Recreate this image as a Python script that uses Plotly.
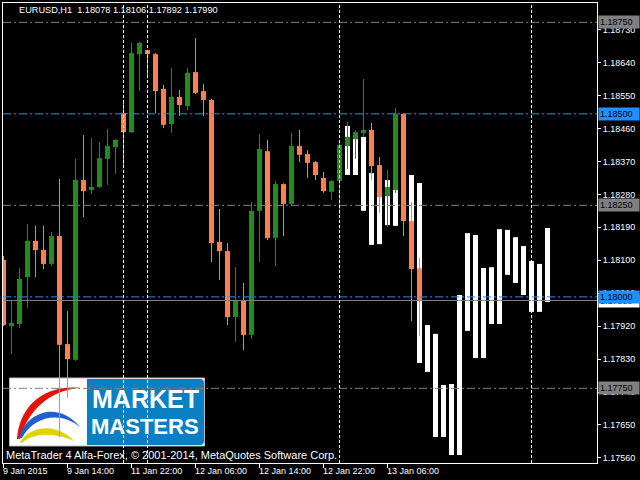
import plotly.graph_objects as go

# ---------------- data ----------------
bar_index = list(range(53))
opens = [1.18101, 1.17920, 1.17926, 1.18054, 1.18153, 1.18128, 1.18090, 1.18166, 1.17871, 1.17828,
         1.18319, 1.18292, 1.18300, 1.18377, 1.18409, 1.18502, 1.18450, 1.18663, 1.18674, 1.18663,
         1.18568, 1.18472, 1.18546, 1.18521, 1.18614, 1.18562, 1.18538, 1.18150, 1.18125, 1.17945,
         1.17991, 1.17896, 1.18235, 1.18398, 1.18161, 1.18308, 1.18254, 1.18412, 1.18390, 1.18368,
         1.18325, 1.18287, 1.18317, 1.18412, 1.18431, 1.18448, 1.18456, 1.18360, 1.18275, 1.18292,
         1.18500, 1.18207, 1.18078]
highs = [1.18112, 1.17991, 1.18079, 1.18199, 1.18194, 1.18194, 1.18177, 1.18322, 1.17961, 1.18377,
         1.18442, 1.18434, 1.18423, 1.18459, 1.18431, 1.18538, 1.18694, 1.18696, 1.18675, 1.18666,
         1.18579, 1.18625, 1.18565, 1.18625, 1.18707, 1.18582, 1.18541, 1.18240, 1.18147, 1.18081,
         1.18038, 1.18259, 1.18445, 1.18429, 1.18317, 1.18310, 1.18448, 1.18456, 1.18401, 1.18371,
         1.18341, 1.18318, 1.18429, 1.18478, 1.18456, 1.18595, 1.18475, 1.18382, 1.18347, 1.18516,
         1.18502, 1.18259, 1.18106]
lows = [1.17920, 1.17844, 1.17915, 1.17970, 1.18054, 1.18076, 1.18084, 1.17617, 1.17724, 1.17825,
        1.18218, 1.18281, 1.18298, 1.18306, 1.18336, 1.18355, 1.18448, 1.18562, 1.18601, 1.18502,
        1.18461, 1.18448, 1.18494, 1.18510, 1.18554, 1.18494, 1.18095, 1.18046, 1.17923, 1.17877,
        1.17855, 1.17885, 1.18095, 1.18155, 1.18084, 1.18166, 1.18248, 1.18368, 1.18325, 1.18319,
        1.18284, 1.18265, 1.18226, 1.18349, 1.18377, 1.18437, 1.18319, 1.18229, 1.18191, 1.18284,
        1.18166, 1.17934, 1.17892]
closes = [1.17923, 1.17929, 1.18049, 1.18153, 1.18128, 1.18090, 1.18166, 1.17869, 1.17830, 1.18319,
          1.18289, 1.18300, 1.18379, 1.18412, 1.18429, 1.18450, 1.18666, 1.18694, 1.18663, 1.18562,
          1.18470, 1.18546, 1.18524, 1.18612, 1.18557, 1.18538, 1.18147, 1.18125, 1.17945, 1.17989,
          1.17896, 1.18235, 1.18404, 1.18161, 1.18308, 1.18254, 1.18412, 1.18388, 1.18366, 1.18333,
          1.18289, 1.18317, 1.18415, 1.18437, 1.18450, 1.18456, 1.18357, 1.18273, 1.18300, 1.18500,
          1.18207, 1.18076, 1.17990]

proj_index = [43, 44, 45, 46, 47, 48, 49, 51, 52, 53, 54, 55, 56, 57, 58, 59, 60, 61, 62, 63,
              64, 65, 66, 67, 68]
proj_high = [1.18467, 1.18431, 1.18437, 1.18338, 1.18273, 1.18319, 1.18292, 1.18333, 1.18311, 1.17923,
             1.17899, 1.17759, 1.17762, 1.18005, 1.18174, 1.18169, 1.18079, 1.18081, 1.18185, 1.18183,
             1.18163, 1.18139, 1.18098, 1.18090, 1.18188]
proj_low = [1.18333, 1.18333, 1.18235, 1.18142, 1.18144, 1.18196, 1.18194, 1.18150, 1.17819, 1.17795,
            1.17617, 1.17617, 1.17568, 1.17568, 1.17907, 1.17833, 1.17833, 1.17926, 1.17926, 1.18060,
            1.18038, 1.18005, 1.17959, 1.17959, 1.17986]

level_grey = [1.18750, 1.18250, 1.17750]
level_blue = [1.18500, 1.18000]
bid_price = 1.17990
vline_bars = [15, 18, 42, 66]
ytick_vals = [1.18730, 1.18640, 1.18550, 1.18460, 1.18370, 1.18280, 1.18190, 1.18100,
              1.18010, 1.17920, 1.17830, 1.17740, 1.17650, 1.17560]
xtick_bars = [0, 8, 16, 24, 32, 40, 48]
xtick_labels = ["9 Jan 2015", "9 Jan 14:00", "11 Jan 22:00", "12 Jan 06:00",
                "12 Jan 14:00", "12 Jan 22:00", "13 Jan 06:00"]
header_text = "EURUSD,H1  1.18078 1.18106 1.17892 1.17990"
footer_text = "MetaTrader 4 Alfa-Forex, © 2001-2014, MetaQuotes Software Corp."

# ---------------- style ----------------
UP = "#228B22"
DOWN = "#FF7F50"
GREY = "#808080"
BLUE = "#1E90FF"
FONT = "Liberation Sans, Arial, sans-serif"

PL, PR, PT, PB = 3, 597, 3, 463  # plot area in page pixels


def fx(px):
    return (px - PL) / (PR - PL)


def fy(py):
    return (PB - py) / (PB - PT)


def svg(segs):
    parts = []
    for cmd, pts in segs:
        parts.append(cmd + " " + " ".join(f"{fx(x):.5f},{fy(y):.5f}" for x, y in pts))
    return " ".join(parts) + " Z"


fig = go.Figure()

# projection (white) bars
fig.add_trace(go.Bar(x=proj_index, base=proj_low,
                     y=[h - l for h, l in zip(proj_high, proj_low)],
                     width=0.625, marker=dict(color="white", line=dict(width=0)),
                     hoverinfo="skip"))

# wicks
for col, cond in ((UP, lambda o, c: c >= o), (DOWN, lambda o, c: c < o)):
    wx, wy = [], []
    for i, o, h, l, c in zip(bar_index, opens, highs, lows, closes):
        if cond(o, c):
            wx += [i, i, None]
            wy += [l, h, None]
    fig.add_trace(go.Scatter(x=wx, y=wy, mode="lines", line=dict(color=col, width=1),
                             hoverinfo="skip"))

# bodies
fig.add_trace(go.Bar(x=bar_index,
                     base=[min(o, c) for o, c in zip(opens, closes)],
                     y=[max(abs(c - o), 0.00002) for o, c in zip(opens, closes)],
                     width=0.625,
                     marker=dict(color=[UP if c >= o else DOWN for o, c in zip(opens, closes)],
                                 line=dict(width=0)),
                     hoverinfo="skip"))

shapes = []
# logo
shapes.append(dict(type="rect", xref="paper", yref="paper", x0=fx(9.5), x1=fx(204.5),
                   y0=fy(446), y1=fy(378), fillcolor="white", line=dict(width=1, color="#B8B8B8"),
                   layer="below"))
shapes.append(dict(type="path", xref="paper", yref="paper", layer="below",
                   path=svg([("M", [(87, 379)]), ("L", [(200, 379)]), ("Q", [(204, 379), (204, 383)]),
                             ("L", [(204, 441)]), ("Q", [(204, 445), (200, 445)]), ("L", [(87, 445)])]),
                   fillcolor="#0B7FC3", line=dict(width=0)))
shapes.append(dict(type="path", xref="paper", yref="paper", layer="below",
                   path=svg([("M", [(17, 439)]), ("C", [(19, 410), (40, 384), (81, 388)]),
                             ("C", [(58, 389), (30, 403), (20, 439)])]),
                   fillcolor="#E3120B", line=dict(width=0)))
shapes.append(dict(type="path", xref="paper", yref="paper", layer="below",
                   path=svg([("M", [(19, 438)]), ("C", [(26, 412), (58, 400), (80, 427)]),
                             ("C", [(60, 411), (34, 416), (22, 438)])]),
                   fillcolor="#1F5FD0", line=dict(width=0)))
shapes.append(dict(type="path", xref="paper", yref="paper", layer="below",
                   path=svg([("M", [(20, 442)]), ("C", [(32, 424), (58, 424), (74, 441)]),
                             ("C", [(56, 433), (34, 432), (22, 443)])]),
                   fillcolor="#E2D200", line=dict(width=0)))

# horizontal levels
for v in level_grey:
    shapes.append(dict(type="line", xref="paper", x0=0, x1=1, yref="y", y0=v, y1=v,
                       line=dict(color=GREY, width=1, dash="8px,3px,2px,3px"), layer="above"))
for v in level_blue:
    shapes.append(dict(type="line", xref="paper", x0=0, x1=1, yref="y", y0=v, y1=v,
                       line=dict(color=BLUE, width=1, dash="8px,3px,2px,3px"), layer="above"))
shapes.append(dict(type="line", xref="paper", x0=0, x1=1, yref="y", y0=bid_price, y1=bid_price,
                   line=dict(color=GREY, width=1), layer="above"))
# vertical separators
for b in vline_bars:
    shapes.append(dict(type="line", xref="x", x0=b, x1=b, yref="paper", y0=0, y1=1,
                       line=dict(color="white", width=1, dash="3px,2px"), layer="above"))

annotations = []
# x tick labels (left aligned at tick)
for b, t in zip(xtick_bars, xtick_labels):
    annotations.append(dict(x=b, xref="x", y=0, yref="paper", text=t, showarrow=False,
                            xanchor="left", yanchor="top", xshift=-3, yshift=-1,
                            font=dict(family=FONT, size=9, color="white")))
# price level labels
level_labels = [(bid_price, "white")] + [(v, GREY) for v in level_grey] + [(v, BLUE) for v in level_blue]
for v, col in level_labels:
    annotations.append(dict(x=1, xref="paper", y=v, yref="y", text=f"{v:.5f}", showarrow=False,
                            xanchor="left", yanchor="middle", xshift=1, bgcolor=col, borderpad=1,
                            width=38, align="left",
                            font=dict(family=FONT, size=9, color="black")))
# header / footer
annotations.append(dict(x=fx(17), xref="paper", y=fy(10.5), yref="paper", text=header_text,
                        showarrow=False, xanchor="left", yanchor="middle",
                        font=dict(family=FONT, size=9.2, color="white")))
annotations.append(dict(x=fx(4), xref="paper", y=fy(455), yref="paper", text=footer_text,
                        showarrow=False, xanchor="left", yanchor="middle",
                        font=dict(family=FONT, size=11, color="white")))
# logo text
annotations.append(dict(x=fx(145), xref="paper", y=fy(398.5), yref="paper", text="<b>MARKET</b>",
                        showarrow=False, xanchor="center", yanchor="middle",
                        font=dict(family=FONT, size=25, color="white")))
annotations.append(dict(x=fx(145), xref="paper", y=fy(426.5), yref="paper", text="<b>MASTERS</b>",
                        showarrow=False, xanchor="center", yanchor="middle",
                        font=dict(family=FONT, size=22, color="white")))

fig.update_layout(
    width=640, height=480,
    margin=dict(l=PL, r=640 - PR, t=PT, b=480 - PB, pad=0),
    paper_bgcolor="black", plot_bgcolor="black",
    showlegend=False, barmode="overlay", hovermode=False,
    shapes=shapes, annotations=annotations,
    font=dict(family=FONT, color="white"),
    xaxis=dict(range=[-0.0625, 74.1875], showgrid=False, zeroline=False,
               showline=True, linecolor="white", linewidth=1, mirror=True,
               tickvals=xtick_bars, showticklabels=False,
               ticks="outside", ticklen=4, tickcolor="white", tickwidth=1),
    yaxis=dict(range=[1.175461, 1.188028], side="right", showgrid=False, zeroline=False,
               showline=True, linecolor="white", linewidth=1, mirror=True,
               tickvals=ytick_vals, ticktext=[f"{v:.5f}" for v in ytick_vals],
               ticks="outside", ticklen=3, tickcolor="white", tickwidth=1,
               tickfont=dict(family=FONT, size=9, color="white")),
)

fig.write_html("out.html", config={"displayModeBar": False},
               post_script="document.body.style.margin='0';document.body.style.background='black';")
